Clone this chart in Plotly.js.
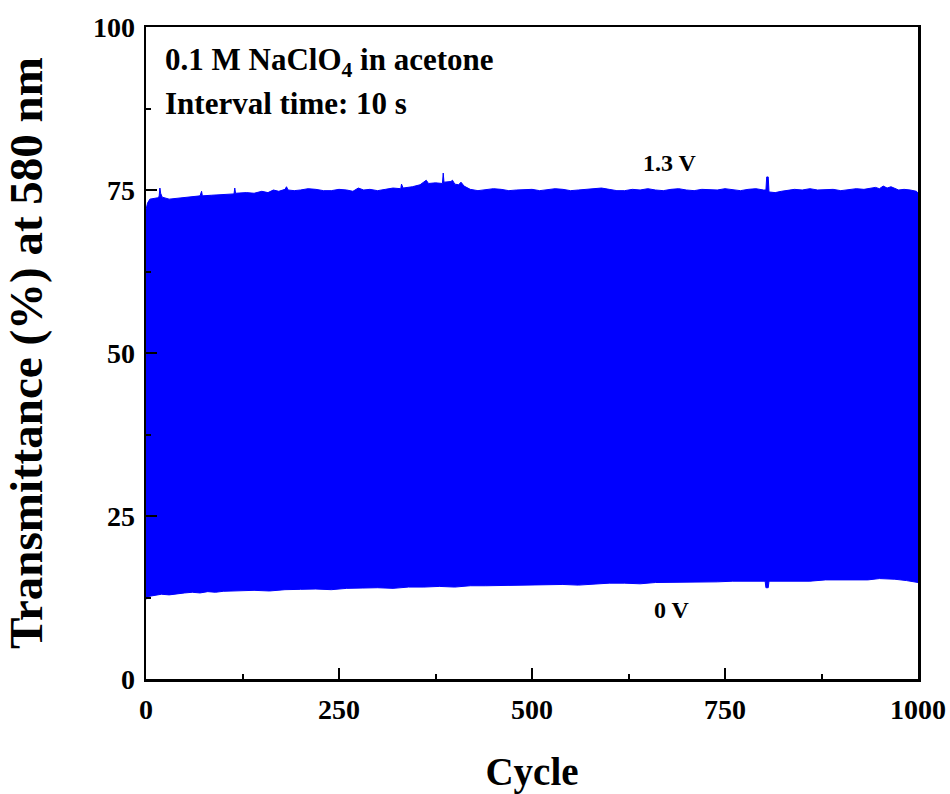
<!DOCTYPE html>
<html>
<head>
<meta charset="utf-8">
<script src="https://cdn.plot.ly/plotly-3.0.1.min.js"></script>
<style>html,body{margin:0;padding:0;background:#fff;}#chart{width:950px;height:794px;}</style>
</head>
<body>
<div id="chart"></div>
<script>
// Upper envelope (1.3 V state)
const upperCycles = [0, 2, 5, 10, 15, 17, 18, 19, 21, 30, 40, 50, 60, 70, 72, 73, 85, 100, 114, 115, 116, 130, 140, 150, 158, 165, 172, 180, 182, 184, 192, 200, 210, 220, 230, 240, 250, 260, 268, 275, 282, 290, 300, 310, 320, 330, 331, 333, 345, 355, 363, 366, 375, 384, 385, 386, 395, 397, 400, 405, 408, 412, 420, 430, 440, 450, 460, 470, 480, 490, 500, 510, 520, 530, 540, 550, 560, 570, 580, 590, 600, 610, 620, 630, 640, 650, 660, 670, 680, 690, 700, 710, 720, 730, 740, 750, 760, 770, 780, 790, 800, 803, 804, 806, 807, 815, 823, 830, 840, 850, 860, 870, 880, 890, 900, 910, 920, 930, 938, 945, 950, 955, 960, 965, 975, 982, 990, 998, 1000];
const upperValues = [72.0, 73.0, 73.6, 73.7, 73.8, 74.0, 75.3, 74.5, 73.9, 73.6, 73.7, 73.9, 74.0, 74.1, 74.8, 74.1, 74.2, 74.3, 74.4, 75.3, 74.5, 74.6, 74.5, 74.8, 74.6, 75.0, 74.8, 75.1, 75.5, 75.0, 74.9, 75.0, 75.2, 75.1, 74.9, 74.9, 75.1, 75.0, 74.8, 75.3, 75.0, 75.1, 74.9, 75.1, 75.3, 75.2, 75.9, 75.3, 75.5, 75.8, 76.5, 76.0, 76.1, 76.0, 77.6, 76.2, 76.3, 76.5, 75.9, 75.8, 76.2, 75.6, 75.1, 74.9, 75.0, 75.2, 75.1, 74.9, 75.0, 75.1, 75.1, 74.9, 75.0, 75.2, 75.1, 74.9, 75.0, 75.1, 75.1, 75.3, 75.1, 74.9, 74.9, 75.1, 75.0, 75.2, 75.0, 74.9, 75.1, 75.2, 75.0, 74.9, 75.1, 75.0, 75.0, 75.2, 75.1, 74.9, 75.1, 75.2, 75.0, 75.0, 77.0, 77.0, 74.7, 74.6, 74.8, 74.9, 75.1, 75.0, 75.2, 75.0, 75.1, 75.1, 74.9, 75.0, 75.2, 75.1, 75.3, 75.4, 75.2, 75.6, 75.3, 75.5, 75.0, 75.1, 75.0, 74.8, 74.5];

// Lower envelope (0 V state)
const lowerCycles = [0, 2, 5, 10, 20, 30, 40, 50, 60, 70, 80, 90, 100, 120, 140, 160, 180, 200, 220, 240, 260, 280, 300, 320, 340, 360, 380, 400, 420, 440, 460, 480, 500, 520, 540, 560, 580, 600, 620, 640, 660, 680, 700, 720, 740, 760, 780, 802, 803, 806, 807, 820, 840, 860, 880, 900, 920, 935, 950, 960, 970, 985, 1000];
const lowerValues = [12.2, 12.5, 12.7, 12.8, 13.0, 12.9, 13.1, 13.2, 13.3, 13.2, 13.4, 13.3, 13.45, 13.5, 13.6, 13.5, 13.7, 13.75, 13.8, 13.7, 13.9, 13.95, 14.0, 13.9, 14.1, 14.1, 14.2, 14.1, 14.3, 14.3, 14.35, 14.3, 14.4, 14.5, 14.5, 14.4, 14.6, 14.7, 14.7, 14.6, 14.8, 14.8, 14.85, 14.8, 14.9, 15.0, 15.0, 15.0, 14.0, 14.0, 15.0, 15.0, 15.1, 15.0, 15.2, 15.2, 15.3, 15.2, 15.4, 15.4, 15.3, 15.1, 14.8];

const xTicks = [0, 250, 500, 750, 1000];
const yTicks = [0, 25, 50, 75, 100];

const serif = '"Liberation Serif", "Times New Roman", serif';
const blue = 'rgb(0,0,255)';

const traces = [
  {x: lowerCycles, y: lowerValues, type: 'scatter', mode: 'lines',
   line: {color: blue, width: 1}, hoverinfo: 'skip', showlegend: false},
  {x: upperCycles, y: upperValues, type: 'scatter', mode: 'lines',
   line: {color: blue, width: 1}, fill: 'tonexty', fillcolor: blue,
   hoverinfo: 'skip', showlegend: false}
];

const axisCommon = {
  showline: true, linecolor: '#000', linewidth: 2.5, mirror: true,
  ticks: 'inside', ticklen: 11, tickwidth: 2, tickcolor: '#000',
  showgrid: false, zeroline: false,
  tickfont: {family: serif, size: 28, color: '#000', weight: 'bold'}
};

const layout = {
  width: 950, height: 794,
  margin: {l: 146, r: 32, t: 27, b: 115},
  paper_bgcolor: '#fff', plot_bgcolor: '#fff',
  showlegend: false,
  xaxis: Object.assign({}, axisCommon, {
    range: [0, 1000], tickmode: 'array', tickvals: xTicks, ticktext: xTicks.map(String),
    ticklabelstandoff: 4,
    minor: {dtick: 125, tick0: 0, ticks: 'inside', ticklen: 5, tickwidth: 2, tickcolor: '#000'},
    title: {text: 'Cycle', font: {family: serif, size: 39, color: '#000', weight: 'bold'}, standoff: 34}
  }),
  yaxis: Object.assign({}, axisCommon, {
    range: [0, 100], tickmode: 'array', tickvals: yTicks, ticktext: yTicks.map(String),
    ticklabelstandoff: 3,
    minor: {dtick: 12.5, tick0: 0, ticks: 'inside', ticklen: 5, tickwidth: 2, tickcolor: '#000'},
    title: {text: 'Transmittance (%) at 580 nm', font: {family: serif, size: 47, color: '#000', weight: 'bold'}, standoff: 36}
  }),
  annotations: [
    {xref: 'x', yref: 'y', x: 22, y: 94.6, xanchor: 'left', yanchor: 'middle', showarrow: false,
     text: '0.1 M NaClO<sub>4</sub> in acetone', font: {family: serif, size: 31, color: '#000', weight: 'bold'}},
    {xref: 'x', yref: 'y', x: 22, y: 88.3, xanchor: 'left', yanchor: 'middle', showarrow: false,
     text: 'Interval time: 10 s', font: {family: serif, size: 31, color: '#000', weight: 'bold'}},
    {xref: 'x', yref: 'y', x: 679, y: 79.1, xanchor: 'center', yanchor: 'middle', showarrow: false,
     text: '1.3 V', font: {family: serif, size: 24, color: '#000', weight: 'bold'}},
    {xref: 'x', yref: 'y', x: 681, y: 10.6, xanchor: 'center', yanchor: 'middle', showarrow: false,
     text: '0 V', font: {family: serif, size: 24, color: '#000', weight: 'bold'}}
  ]
};

Plotly.newPlot('chart', traces, layout, {displayModeBar: false, staticPlot: true});
</script>
</body>
</html>
